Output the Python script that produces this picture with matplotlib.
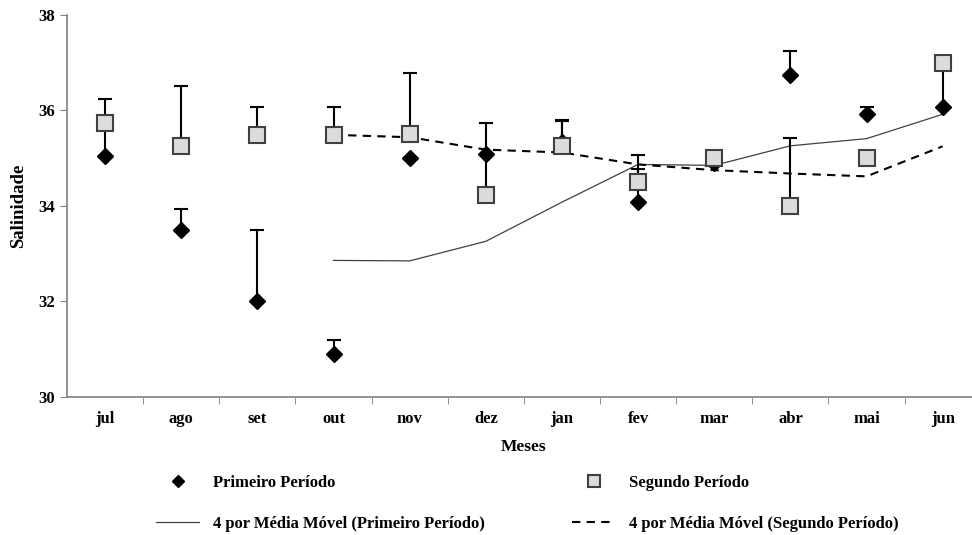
import numpy as np
import matplotlib
matplotlib.use('Agg')
from matplotlib import pyplot as plt
from matplotlib.lines import Line2D

meses = ['jul', 'ago', 'set', 'out', 'nov', 'dez', 'jan', 'fev', 'mar', 'abr', 'mai', 'jun']

# salinidade media por mes
primeiro = [35.05, 33.5, 32.0, 30.91, 35.0, 35.08, 35.34, 34.08, 34.9, 36.74, 35.93, 36.08]
segundo = [35.74, 35.26, 35.49, 35.49, 35.5, 34.24, 35.25, 34.5, 35.0, 34.0, 35.0, 37.0]

# desvio (so para cima)
erro_primeiro = [0.65, 0.43, 1.5, 0.29, 0.0, 0.0, 0.44, 0.69, 0.0, 0.51, 0.15, 0.92]
erro_segundo = [0.51, 1.26, 0.58, 0.58, 1.29, 1.5, 0.56, 0.57, 0.0, 1.43, 0.0, 0.0]

# media movel de 4 meses (comeca em out)
mm_primeiro = [32.86, 32.85, 33.26, 34.08, 34.87, 34.85, 35.26, 35.41, 35.92]
mm_segundo = [35.49, 35.44, 35.18, 35.12, 34.87, 34.75, 34.68, 34.62, 35.25]

plt.rcParams['font.family'] = ['Liberation Serif', 'DejaVu Serif']
plt.rcParams['font.weight'] = 'bold'

fig = plt.figure(figsize=(9.72, 5.35), dpi=100)
ax = fig.add_axes([0.069, 0.258, 0.94, 0.714])

x = np.arange(len(meses))
xm = x[3:]

ax.plot(xm, mm_primeiro, color='#404040', lw=0.9, zorder=2)
ax.plot(xm, mm_segundo, color='black', lw=1.5, ls=(0, (4, 3)), zorder=2)

ep = np.array(erro_primeiro)
es = np.array(erro_segundo)
m1 = ep > 0
m2 = es > 0
ax.errorbar(x[m1], np.array(primeiro)[m1], yerr=[np.zeros(m1.sum()), ep[m1]],
            fmt='none', ecolor='black', elinewidth=1.5, capsize=5, capthick=1.5, zorder=3)
ax.errorbar(x[m2], np.array(segundo)[m2], yerr=[np.zeros(m2.sum()), es[m2]],
            fmt='none', ecolor='black', elinewidth=1.5, capsize=5, capthick=1.5, zorder=3)

ax.plot(x, primeiro, ls='none', marker='D', ms=8, color='black', zorder=4)
ax.plot(x, segundo, ls='none', marker='s', ms=11, mfc='#dcdcdc', mec='#404040', mew=1.5, zorder=5)

ax.set_xlim(-0.5, 11.5)
ax.set_ylim(30, 38)
ax.set_yticks([30, 32, 34, 36, 38])
ax.set_xticks(x)
ax.set_xticklabels(meses)
ax.set_xticks(np.arange(0.5, 11.5, 1), minor=True)
ax.tick_params(axis='x', which='major', length=0, pad=10, labelsize=12)
ax.tick_params(axis='x', which='minor', length=5, direction='out', color='#808080')
ax.tick_params(axis='y', length=5, direction='out', color='#808080', labelsize=12, pad=4)

for s in ['top', 'right']:
    ax.spines[s].set_visible(False)
for s in ['left', 'bottom']:
    ax.spines[s].set_color('#808080')
    ax.spines[s].set_linewidth(1.2)

ax.set_ylabel('Salinidade', fontsize=13.5, fontweight='bold', labelpad=8)
ax.set_xlabel('Meses', fontsize=12.5, fontweight='bold', labelpad=9)

handles = [
    Line2D([], [], ls='none', marker='D', ms=6, color='black'),
    Line2D([], [], color='#404040', lw=0.9),
    Line2D([], [], ls='none', marker='s', ms=9, mfc='#dcdcdc', mec='#404040', mew=1.5),
    Line2D([], [], color='black', lw=1.5, ls=(0, (4, 3))),
]
labels = ['Primeiro Período', '4 por Média Móvel (Primeiro Período)',
          'Segundo Período', '4 por Média Móvel (Segundo Período)']
fig.legend(handles, labels, ncol=2, loc='upper left', bbox_to_anchor=(0.145, 0.141),
           frameon=False, fontsize=12, handlelength=2.6, handletextpad=0.8,
           columnspacing=5.25, labelspacing=1.5)

plt.savefig('out.png', dpi=100)
